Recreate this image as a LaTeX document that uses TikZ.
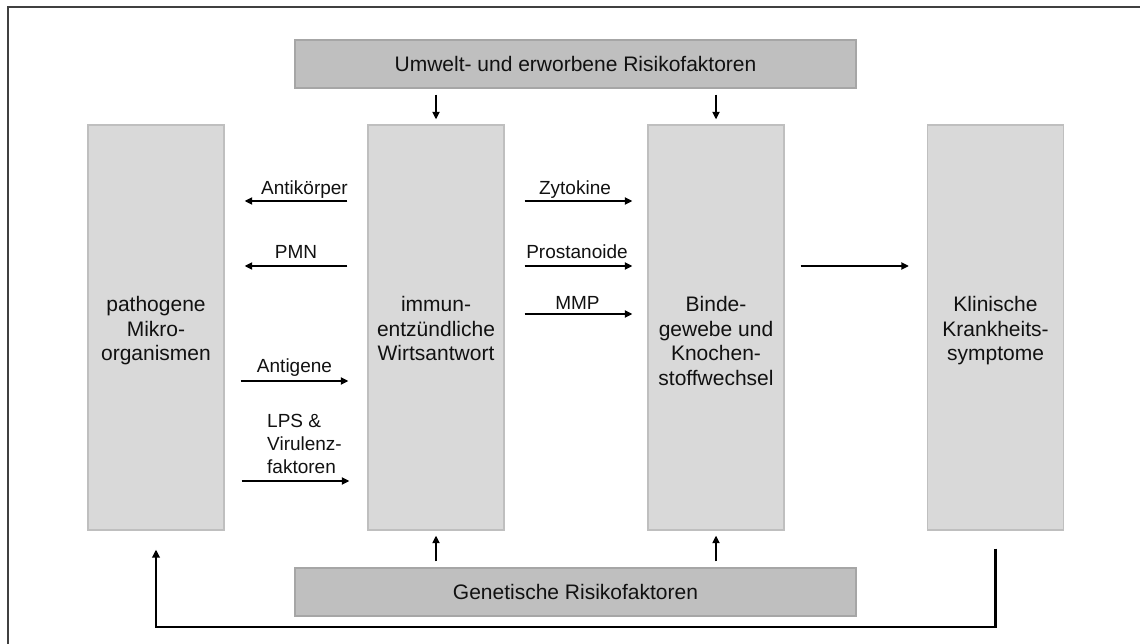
\documentclass[tikz,border=0pt]{standalone}
\usepackage{fontspec}
\setmainfont{Liberation Sans}
\usetikzlibrary{arrows.meta}
\definecolor{colfill}{HTML}{D9D9D9}
\definecolor{colline}{HTML}{BFBFBF}
\definecolor{barfill}{HTML}{BFBFBF}
\definecolor{barline}{HTML}{A6A6A6}
\definecolor{framecol}{HTML}{404040}
\definecolor{txt}{HTML}{111111}
\begin{document}
\begin{tikzpicture}[x=1pt,y=-1pt,
  colbox/.style={draw=colline, fill=colfill, line width=1.2pt, minimum width=136pt, minimum height=405pt, inner sep=0pt},
  barbox/.style={draw=barline, fill=barfill, line width=1.2pt, minimum width=561pt, minimum height=48pt, inner sep=0pt},
  boxtxt/.style={font=\fontsize{21}{24.7}\selectfont, text=txt, align=center, inner sep=0pt, anchor=north},
  bartxt/.style={font=\fontsize{21}{24.7}\selectfont, text=txt, inner sep=0pt, anchor=base},
  lbl/.style={font=\fontsize{19}{23}\selectfont, text=txt, inner sep=0pt, anchor=base},
  arr/.style={line width=2.2pt, -{Triangle[length=7.5pt,width=7pt]}},
  fb/.style={line width=2.4pt, -{Triangle[length=8pt,width=7.5pt]}}
]
\useasboundingbox (0,0) rectangle (1140,644);
% frame (only top and left edge visible)
\draw[framecol, line width=2pt] (7.5,650) -- (7.5,7.5) -- (1150,7.5);

% bars
\node[barbox] (tb) at (575.5,64) {};
\node[bartxt] (tbt) at (575.5,71.5) {Umwelt- und erworbene Risikofaktoren};
\node[barbox] (bb) at (575.5,592) {};
\node[bartxt] (bbt) at (575.5,599.5) {Genetische Risikofaktoren};

% columns
\node[colbox] (b1) at (156,327.5) {};
\node[colbox] (b2) at (436,327.5) {};
\node[colbox] (b3) at (716,327.5) {};
\node[colbox] (b4) at (995.5,327.5) {};

\node[boxtxt] (t1) at (156,296) {pathogene\\Mikro-\\organismen};
\node[boxtxt] (t2) at (436,296) {immun-\\entzündliche\\Wirtsantwort};
\node[boxtxt] (t3) at (716,296) {Binde-\\gewebe und\\Knochen-\\stoffwechsel};
\node[boxtxt] (t4) at (995.5,296) {Klinische\\Krankheits-\\symptome};

% helper heights
\coordinate (y1) at (0,201);
\coordinate (y2) at (0,266);
\coordinate (y3) at (0,314);
\coordinate (y4) at (0,381);
\coordinate (y5) at (0,481);

% leftward arrows
\draw[arr, shorten <=20pt, shorten >=20pt] (b2.west |- y1) -- (b1.east |- y1);
\node[lbl] (l1) at (304.5,195) {Antikörper};
\draw[arr, shorten <=20pt, shorten >=20pt] (b2.west |- y2) -- (b1.east |- y2);
\node[lbl] (l2) at (296,259) {PMN};

% rightward arrows b2 -> b3
\draw[arr, shorten <=20pt, shorten >=15pt] (b2.east |- y1) -- (b3.west |- y1);
\node[lbl] (l3) at (575,195) {Zytokine};
\draw[arr, shorten <=20pt, shorten >=15pt] (b2.east |- y2) -- (b3.west |- y2);
\node[lbl] (l4) at (577,259) {Prostanoide};
\draw[arr, shorten <=20pt, shorten >=15pt] (b2.east |- y3) -- (b3.west |- y3);
\node[lbl] (l5) at (577.5,309) {MMP};

% rightward arrows b1 -> b2
\draw[arr, shorten <=16pt, shorten >=19pt] (b1.east |- y4) -- (b2.west |- y4);
\node[lbl] (l6) at (294.5,372) {Antigene};
\draw[arr, shorten <=17pt, shorten >=18pt] (b1.east |- y5) -- (b2.west |- y5);
\node[lbl, anchor=north west, align=left] (l7) at (267,414) {LPS \&\\Virulenz-\\faktoren};

% b3 -> b4
\draw[arr, shorten <=16pt, shorten >=18pt] (b3.east |- y2) -- (b4.west |- y2);

% top bar down arrows
\draw[arr, shorten <=6pt, shorten >=5pt] (tb.south -| b2.north) -- (b2.north);
\draw[arr, shorten <=6pt, shorten >=5pt] (tb.south -| b3.north) -- (b3.north);
% bottom bar up arrows
\draw[arr, shorten <=6pt, shorten >=5pt] (bb.north -| b2.south) -- (b2.south);
\draw[arr, shorten <=6pt, shorten >=5pt] (bb.north -| b3.south) -- (b3.south);

% feedback loop
\coordinate (fbR) at (b4.south |- 0,627);
\coordinate (fbL) at (b1.south |- 0,627);
\draw[fb, shorten >=19pt] ([yshift=-18pt]b4.south) -- (fbR) -- (fbL) -- (b1.south);
\end{tikzpicture}
\end{document}
